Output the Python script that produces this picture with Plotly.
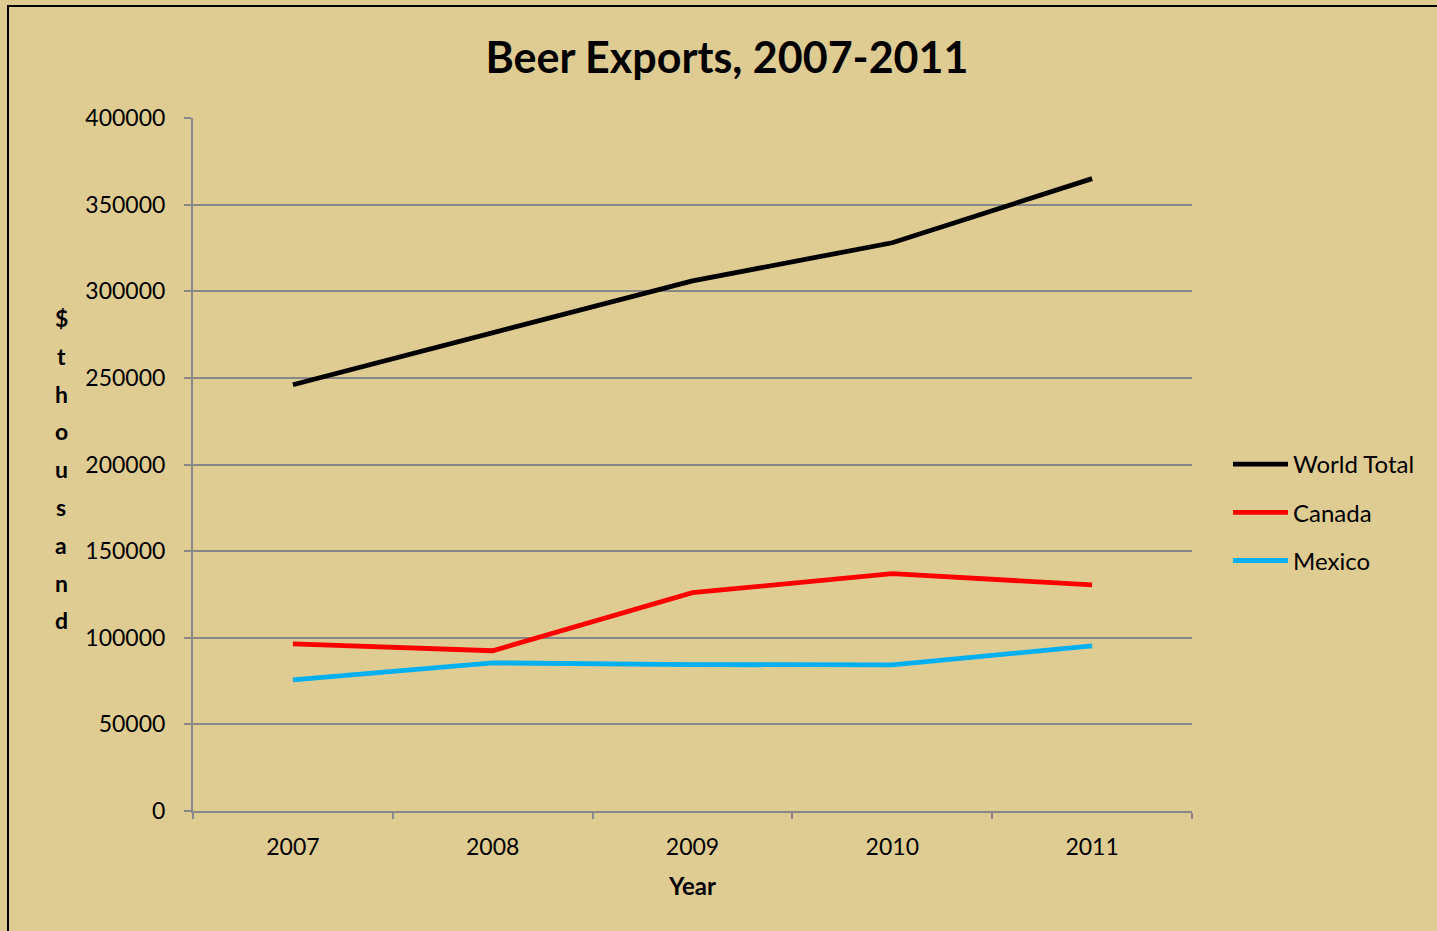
import plotly.graph_objects as go

years = ["2007", "2008", "2009", "2010", "2011"]
world_total = [246000, 276000, 306000, 328000, 365000]
canada = [96500, 92500, 126000, 137000, 130500]
mexico = [75700, 85500, 84500, 84300, 95300]
y_ticks = [0, 50000, 100000, 150000, 200000, 250000, 300000, 350000, 400000]
y_title_letters = ["$", "t", "h", "o", "u", "s", "a", "n", "d"]

FONT = "Lato"
BG = "#DFCC93"

fig = go.Figure()
for i, (name, vals, col) in enumerate([("World Total", world_total, "#000000"),
                                       ("Canada", canada, "#FF0000"),
                                       ("Mexico", mexico, "#00B0F0")]):
    fig.add_trace(go.Scatter(x=years, y=vals, name=name, mode="lines",
                             legendgroup="g%d" % i,
                             line=dict(color=col, width=4.8)))

W, H = 1437, 931
L, R, T, B = 193, 245, 118, 120
PW, PH = W - L - R, H - T - B

fig.update_layout(
    width=W, height=H,
    margin=dict(l=L, r=R, t=T, b=B),
    paper_bgcolor=BG, plot_bgcolor=BG,
    font=dict(family=FONT, size=23, color="#000000"),
    title=dict(text="<b>Beer Exports, 2007-2011</b>", x=727 / W, xanchor="center",
               y=1 - 58 / H, yanchor="middle", font=dict(size=43, family=FONT)),
    showlegend=True,
    legend=dict(x=(1228 - L) / PW, xanchor="left", y=(811 - 442) / PH,
                yanchor="top", bgcolor="rgba(0,0,0,0)", font=dict(size=24, family=FONT),
                itemwidth=55, tracegroupgap=14),
    xaxis=dict(type="category", showgrid=False, showline=True, linecolor="#888888",
               linewidth=2, ticks="outside", tickson="boundaries", ticklen=6,
               tickcolor="#888888", tickwidth=2, range=[-0.5, 4.5],
               ticklabelstandoff=14,
               tickfont=dict(size=23, family=FONT),
               title=dict(text="<b>Year</b>", font=dict(size=24, family=FONT), standoff=20)),
    yaxis=dict(range=[0, 400000], tickvals=y_ticks, showgrid=True, gridcolor="#888888",
               gridwidth=2, showline=True, linecolor="#888888", linewidth=2,
               ticks="outside", ticklen=7, tickcolor="#888888", tickwidth=2,
               ticklabelstandoff=14,
               tickformat="d", tickfont=dict(size=23, family=FONT), zeroline=False),
)

# stacked vertical axis title
for i, ch in enumerate(y_title_letters):
    ypx = 318 + i * 37.8
    fig.add_annotation(text="<b>%s</b>" % ch, xref="paper", yref="paper",
                       x=(61 - L) / PW, y=(811 - ypx) / PH,
                       xanchor="center", yanchor="middle", showarrow=False,
                       font=dict(size=23, family=FONT, color="#000000"))

# outer chart border
fig.add_shape(type="rect", xref="paper", yref="paper",
              x0=(8 - L) / PW, x1=(1460 - L) / PW,
              y0=(811 - 960) / PH, y1=(811 - 6) / PH,
              line=dict(color="#000000", width=2), fillcolor="rgba(0,0,0,0)", layer="below")

fig.write_html("out.html", config={"displayModeBar": False},
               post_script="document.body.style.margin='0';document.body.style.overflow='hidden';")
